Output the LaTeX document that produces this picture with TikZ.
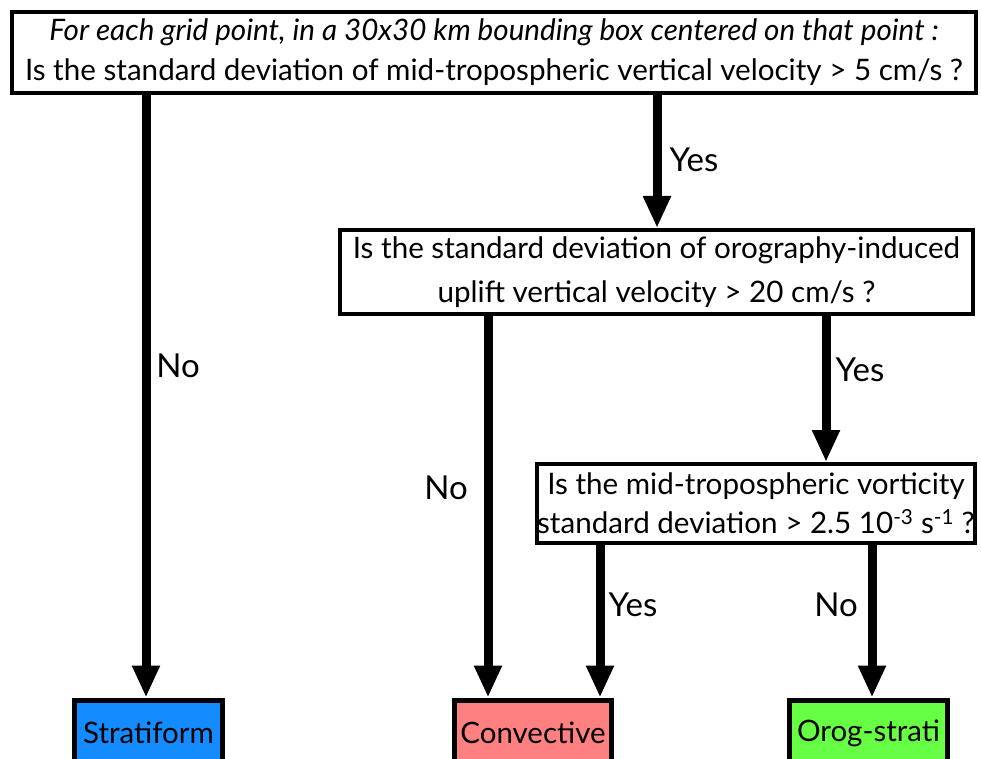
\documentclass[tikz,border=0pt]{standalone}
\usepackage{fontspec}
\setmainfont{Lato}
\usetikzlibrary{arrows.meta}
\definecolor{stratblue}{RGB}{20,140,255}
\definecolor{convpink}{RGB}{255,128,128}
\definecolor{oroggreen}{RGB}{102,255,68}
\tikzset{
  qbox/.style={draw=black, line width=4pt, fill=white, align=center, inner sep=0pt},
  cbox/.style={draw=black, line width=5pt, align=center, inner sep=0pt,
    font=\fontsize{29.5}{32}\selectfont},
  arr/.style={line width=9pt, -{Triangle[width=26pt,length=32pt]}},
  lbl/.style={font=\fontsize{33}{36}\selectfont, inner sep=0pt},
}
\begin{document}
\begin{tikzpicture}[x=1pt,y=-1pt]
\useasboundingbox (0,0) rectangle (981,759);
\node[qbox, minimum width=964pt, minimum height=81pt, font=\fontsize{29.6}{40}\selectfont] (q1) at (494,52.5)
  {\textit{For each grid point, in a 30x30 km bounding box centered on that point :}\\
   Is the standard deviation of mid-tropospheric vertical velocity > 5 cm/s ?};
\node[qbox, minimum width=633pt, minimum height=84pt, font=\fontsize{29.6}{44}\selectfont] (q2) at (656.5,272)
  {Is the standard deviation of orography-induced\\ uplift vertical velocity > 20 cm/s ?};
\node[qbox, minimum width=434pt, minimum height=79pt, font=\fontsize{29.6}{39}\selectfont] (q3) at (756,503.5)
  {Is the mid-tropospheric vorticity\\ standard deviation > 2.5 10\textsuperscript{-3} s\textsuperscript{-1} ?};
\node[cbox, fill=stratblue, minimum width=148pt, minimum height=66pt] (strat) at (148.5,733) {Stratiform};
\node[cbox, fill=convpink, minimum width=157pt, minimum height=66pt] (conv) at (533,733) {Convective};
\node[cbox, fill=oroggreen, minimum width=158pt, minimum height=66pt] (orog) at (868.5,733) {Orog-strati};
\coordinate (xa) at (146,0);
\coordinate (xb) at (657,0);
\coordinate (xc) at (488,0);
\coordinate (xd) at (826,0);
\coordinate (xe) at (600,0);
\coordinate (xf) at (872,0);
\draw[arr] (q1.south -| xa) -- (strat.north -| xa);
\draw[arr] (q1.south -| xb) -- (q2.north -| xb);
\draw[arr] (q2.south -| xc) -- (conv.north -| xc);
\draw[arr] (q2.south -| xd) -- (q3.north -| xd);
\draw[arr] (q3.south -| xe) -- (conv.north -| xe);
\draw[arr] (q3.south -| xf) -- (orog.north -| xf);
\node[lbl] (l1) at (694,160) {Yes};
\node[lbl] (l2) at (178,366) {No};
\node[lbl] (l3) at (860,370) {Yes};
\node[lbl] (l4) at (446,488) {No};
\node[lbl] (l5) at (633,605) {Yes};
\node[lbl] (l6) at (836,605) {No};
\end{tikzpicture}
\end{document}
